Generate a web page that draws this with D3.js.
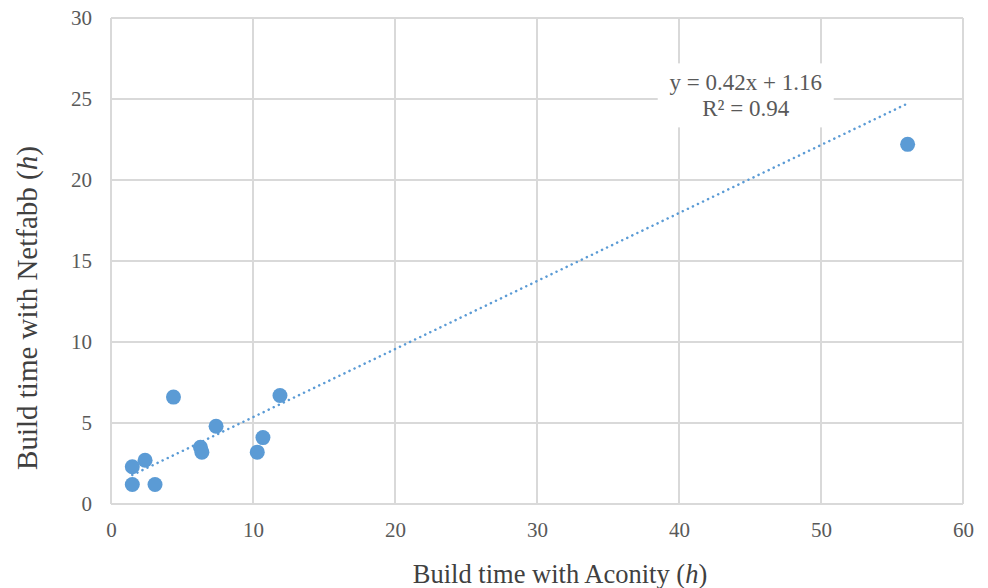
<!DOCTYPE html>
<html>
<head>
<meta charset="utf-8">
<script src="https://cdn.jsdelivr.net/npm/d3@7"></script>
<style>
  body { margin: 0; background: #fff; }
  text { font-family: "Liberation Serif", "Times New Roman", serif; fill: #595959; }
</style>
</head>
<body>
<div id="chart"></div>
<script>
// build times (h)
const aconity = [1.5, 2.4, 1.5, 3.1, 4.4, 6.3, 6.4, 7.4, 10.3, 10.7, 11.9, 56.1];
const netfabb = [2.3, 2.7, 1.2, 1.2, 6.6, 3.5, 3.2, 4.8, 3.2, 4.1, 6.7, 22.2];
const xTicks = [0, 10, 20, 30, 40, 50, 60];
const yTicks = [0, 5, 10, 15, 20, 25, 30];
const trend = { slope: 0.42, intercept: 1.16 };
const trendLabel = ['y = 0.42x + 1.16', 'R² = 0.94'];

const margin = {top: 18, right: 25, bottom: 84, left: 111};
const width = 988 - margin.left - margin.right;
const height = 588 - margin.top - margin.bottom;

const svg = d3.select('#chart')
  .append('svg')
  .attr('width', 988)
  .attr('height', 588);

const g = svg.append('g')
  .attr('transform', 'translate(' + margin.left + ',' + margin.top + ')');

const x = d3.scaleLinear().domain([0, 60]).range([0, width]);
const y = d3.scaleLinear().domain([0, 30]).range([height, 0]);

// grid
g.append('g').selectAll('line')
  .data(yTicks)
  .enter().append('line')
  .attr('x1', 0).attr('x2', width)
  .attr('y1', d => y(d)).attr('y2', d => y(d))
  .style('stroke', '#d9d9d9').style('stroke-width', 2);

g.append('g').selectAll('line')
  .data(xTicks)
  .enter().append('line')
  .attr('y1', 0).attr('y2', height)
  .attr('x1', d => x(d)).attr('x2', d => x(d))
  .style('stroke', '#d9d9d9').style('stroke-width', 2);

// axes (labels only)
const xAxis = g.append('g')
  .attr('transform', 'translate(0,' + height + ')')
  .call(d3.axisBottom(x).tickValues(xTicks).tickSize(0).tickPadding(18));
const yAxis = g.append('g')
  .call(d3.axisLeft(y).tickValues(yTicks).tickSize(0).tickPadding(19));
[xAxis, yAxis].forEach(a => {
  a.select('.domain').remove();
  a.attr('font-family', null);
  a.selectAll('text').style('font-size', '21px').style('fill', '#595959')
    .style('font-family', '"Liberation Serif", serif');
});

// trendline
const x0 = d3.min(aconity), x1 = d3.max(aconity);
g.append('line')
  .attr('x1', x(x0)).attr('y1', y(trend.slope * x0 + trend.intercept))
  .attr('x2', x(x1)).attr('y2', y(trend.slope * x1 + trend.intercept))
  .style('stroke', '#5b9bd5')
  .style('stroke-width', 2.5)
  .style('stroke-linecap', 'round')
  .style('stroke-dasharray', '0.1 5.5');

// points
g.append('g').selectAll('circle')
  .data(aconity)
  .enter().append('circle')
  .attr('cx', d => x(d))
  .attr('cy', (d, i) => y(netfabb[i]))
  .attr('r', 7.5)
  .style('fill', '#5b9bd5');

// trendline label
const lab = g.append('g').attr('transform', 'translate(' + x(44.7) + ',' + y(27.2) + ')');
lab.append('rect')
  .attr('x', -88).attr('y', 0).attr('width', 176).attr('height', 64)
  .style('fill', '#fff');
lab.selectAll('text')
  .data(trendLabel)
  .enter().append('text')
  .attr('text-anchor', 'middle')
  .attr('y', (d, i) => 27 + i * 26)
  .style('font-size', '23px')
  .text(d => d);

// axis titles
const xt = svg.append('text')
  .attr('x', 560)
  .attr('y', 583)
  .attr('text-anchor', 'middle')
  .style('font-size', '26.5px')
  .style('fill', '#404040');
xt.append('tspan').text('Build time with Aconity (');
xt.append('tspan').style('font-style', 'italic').text('h');
xt.append('tspan').text(')');

const yt = svg.append('text')
  .attr('transform', 'translate(37,308) rotate(-90)')
  .attr('text-anchor', 'middle')
  .style('font-size', '29px')
  .style('fill', '#404040');
yt.append('tspan').text('Build time with Netfabb (');
yt.append('tspan').style('font-style', 'italic').text('h');
yt.append('tspan').text(')');
</script>
</body>
</html>
